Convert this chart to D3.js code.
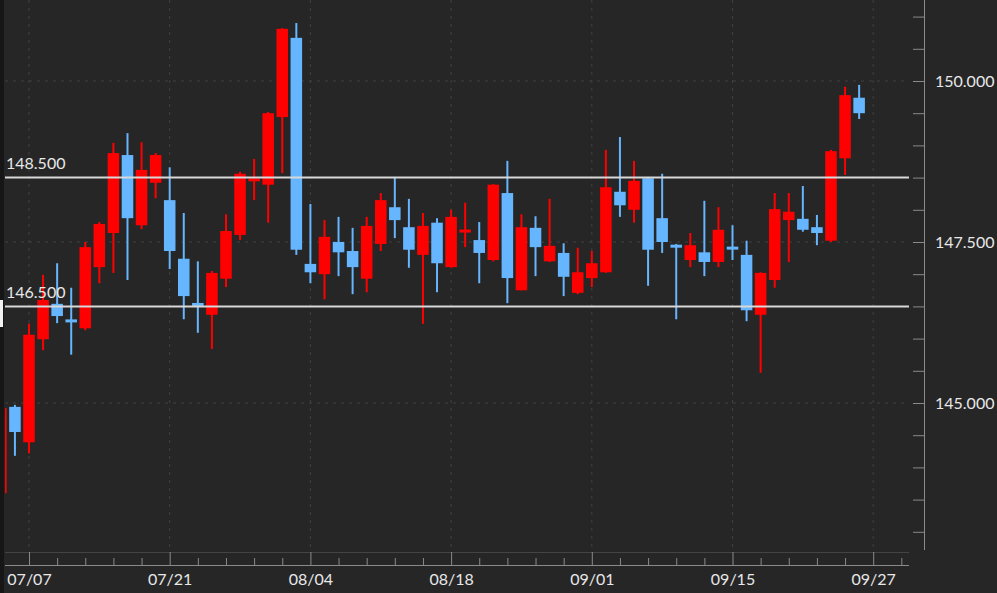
<!DOCTYPE html>
<html>
<head>
<meta charset="utf-8">
<script src="https://cdn.jsdelivr.net/npm/d3@7"></script>
<style>
  html, body { margin: 0; padding: 0; background: #262626; }
  svg { display: block; }
  text { font-family: Lato, "Open Sans", sans-serif; }
</style>
</head>
<body>
<svg id="chart" width="997" height="593"></svg>
<script>
// ---- data (candle index, open, high, low, close) ----
const candleIndex = [-2,-1,0,1,2,3,4,5,6,7,8,9,10,11,12,13,14,15,16,17,18,19,20,21,22,23,24,25,26,27,28,29,30,31,32,33,34,35,36,37,38,39,40,41,42,43,44,45,46,47,48,49,50,51,52,53,54,55,56,57,58,59];
const opens  = [143.60,144.94,144.39,145.99,146.54,146.29,146.16,147.11,147.64,148.85,147.76,148.42,148.15,147.24,146.55,146.37,146.93,147.61,148.45,148.39,149.44,150.67,147.16,147.00,147.50,147.36,146.93,147.47,148.04,147.73,147.30,147.80,147.11,147.66,147.53,147.22,148.26,146.75,147.72,147.20,147.33,146.71,146.94,147.03,148.28,148.00,148.49,147.87,147.45,147.22,147.34,147.19,147.42,147.30,146.37,146.91,147.84,147.86,147.73,147.52,148.80,149.74];
const highs  = [144.95,144.97,146.23,146.99,147.17,146.79,147.50,147.81,149.04,149.19,149.05,148.88,148.66,147.95,147.20,147.05,147.93,148.59,148.79,149.52,150.82,150.90,148.09,147.84,147.89,147.72,147.89,148.26,148.51,148.17,147.95,147.87,148.00,148.11,147.81,148.40,148.76,147.93,147.90,148.17,147.48,147.41,147.36,148.93,149.13,148.76,148.51,148.56,147.47,147.64,148.14,148.04,147.76,147.52,147.03,148.26,148.26,148.37,147.92,148.93,149.91,149.94];
const lows   = [143.58,144.18,144.22,145.82,146.24,145.75,146.13,146.86,147.02,146.91,147.70,148.18,147.08,146.30,146.09,145.84,146.80,147.53,148.15,147.80,148.57,147.30,146.86,146.61,146.97,146.69,146.72,147.36,147.56,147.10,146.23,146.72,147.10,147.42,146.86,147.20,146.55,146.75,146.97,147.19,146.66,146.69,146.80,147.02,147.89,147.80,146.82,147.33,146.30,147.11,146.97,147.11,147.22,146.27,145.47,146.79,147.19,147.66,147.45,147.50,148.54,149.41];
const closes = [144.92,144.55,146.06,146.60,146.35,146.26,147.42,147.78,148.88,147.87,148.62,148.85,147.36,146.66,146.51,147.02,147.67,148.56,148.48,149.50,150.81,147.38,147.03,147.58,147.34,147.11,147.75,148.15,147.84,147.38,147.75,147.17,147.89,147.68,147.33,148.39,146.94,147.73,147.42,147.44,146.96,147.03,147.17,148.35,148.07,148.45,147.38,147.50,147.42,147.45,147.19,147.69,147.39,146.44,147.02,148.01,147.97,147.69,147.64,148.91,149.78,149.50];

const xTickIndex  = [0,10,20,30,40,50,60];
const xTickLabels = ["07/07","07/21","08/04","08/18","09/01","09/15","09/27"];
const xMinorIndex = [-2,0,2,4,6,8,10,12,14,16,18,20,22,24,26,28,30,32,34,36,38,40,42,44,46,48,50,52,54,56,58,60,62];
const yTicks      = [143,143.5,144,144.5,145,145.5,146,146.5,147,147.5,148,148.5,149,149.5,150,150.5,151];
const yLabelTicks = [145,147.5,150];
const levelValues = [148.5,146.5];
const levelLabels = ["148.500","146.500"];

// ---- layout ----
const W = 997, H = 593;
const plotLeft = 5, plotRight = 909, plotTop = 0, plotBottom = 552;
const axisX = 924, xAxisY = 565;

const svg = d3.select("#chart");
svg.append("rect").attr("x",0).attr("y",0).attr("width",W).attr("height",H).attr("fill","#262626");

const x = d3.scaleLinear().domain([0,60]).range([29,873.2]);
const y = d3.scaleLinear().domain([145,150]).range([403,81]);
const step = x(1) - x(0);

const candles = candleIndex.map((d,i)=>({i:d,o:opens[i],h:highs[i],l:lows[i],c:closes[i]}));

// left dark strip
svg.append("rect").attr("x",0).attr("y",0).attr("width",4).attr("height",H).attr("fill","#161616");

// clip
svg.append("clipPath").attr("id","plotclip").append("rect")
  .attr("x",plotLeft).attr("y",plotTop).attr("width",plotRight-plotLeft).attr("height",plotBottom-plotTop);

// grid
const grid = svg.append("g").attr("clip-path","url(#plotclip)");
grid.selectAll("line.vg").data(xTickIndex).join("line")
  .attr("x1",d=>x(d)).attr("x2",d=>x(d)).attr("y1",plotTop).attr("y2",plotBottom)
  .attr("stroke","#404040").attr("stroke-width",1).attr("stroke-dasharray","3,5");
grid.selectAll("line.hg").data(yLabelTicks).join("line")
  .attr("x1",plotLeft).attr("x2",plotRight).attr("y1",d=>y(d)).attr("y2",d=>y(d))
  .attr("stroke","#404040").attr("stroke-width",1).attr("stroke-dasharray","3,5");

// plot bottom faint line
svg.append("line").attr("x1",plotLeft).attr("x2",plotRight).attr("y1",plotBottom+0.5).attr("y2",plotBottom+0.5)
  .attr("stroke","#444").attr("stroke-width",1);

// candles
const cg = svg.append("g").attr("clip-path","url(#plotclip)");
const colorOf = d => d.c >= d.o ? "#ff0000" : "#66b5ff";
cg.selectAll("line.wick").data(candles).join("line")
  .attr("x1",d=>x(d.i)).attr("x2",d=>x(d.i)).attr("y1",d=>y(d.h)).attr("y2",d=>y(d.l))
  .attr("stroke",colorOf).attr("stroke-width",2);
const bw = step*0.82;
cg.selectAll("rect.body").data(candles).join("rect")
  .attr("x",d=>x(d.i)-bw/2).attr("width",bw)
  .attr("y",d=>{const t=Math.min(y(d.o),y(d.c)), hh=Math.abs(y(d.o)-y(d.c)); return hh<3 ? (t+hh/2-1.5) : t;})
  .attr("height",d=>Math.max(3,Math.abs(y(d.o)-y(d.c))))
  .attr("fill",colorOf);

// level lines
svg.selectAll("line.level").data(levelValues).join("line")
  .attr("x1",plotLeft).attr("x2",plotRight).attr("y1",d=>y(d)).attr("y2",d=>y(d))
  .attr("stroke","#d8d8d8").attr("stroke-width",2);
svg.selectAll("text.level").data(levelValues).join("text")
  .attr("x",6).attr("y",d=>y(d)-8.5)
  .attr("fill","#e8e8e8").attr("font-size",16).text((d,i)=>levelLabels[i]);

// left white marker
svg.append("rect").attr("x",0).attr("y",300).attr("width",3).attr("height",27).attr("fill","#f2f2f2");

// y axis
const yAxis = d3.axisRight(y).tickValues(yTicks).tickSizeInner(-11).tickSizeOuter(0).tickPadding(11)
  .tickFormat(d => yLabelTicks.includes(d) ? d3.format(".3f")(d) : "");
const yg = svg.append("g").attr("transform",`translate(${axisX},0)`).call(yAxis);
yg.select(".domain").remove();
yg.selectAll(".tick line").attr("stroke","#8a8a8a").attr("stroke-width",1);
yg.selectAll(".tick text").attr("fill","#e8e8e8").attr("font-size",16).attr("font-family","Lato, sans-serif");
svg.append("line").attr("x1",axisX+0.5).attr("x2",axisX+0.5).attr("y1",0).attr("y2",550)
  .attr("stroke","#8a8a8a").attr("stroke-width",1);

// x axis
const xMajor = d3.axisBottom(x).tickValues(xTickIndex).tickSizeInner(-13).tickSizeOuter(0).tickPadding(9)
  .tickFormat((d,i)=>xTickLabels[i]);
const xg = svg.append("g").attr("transform",`translate(0,${xAxisY})`).call(xMajor);
xg.select(".domain").remove();
xg.selectAll(".tick line").attr("stroke","#8a8a8a");
xg.selectAll(".tick text").attr("fill","#e8e8e8").attr("font-size",16).attr("font-family","Lato, sans-serif");
const xMinor = d3.axisBottom(x).tickValues(xMinorIndex.filter(d=>!xTickIndex.includes(d) && x(d)>plotLeft && x(d)<plotRight))
  .tickSizeInner(-7).tickSizeOuter(0).tickFormat("");
const xmg = svg.append("g").attr("transform",`translate(0,${xAxisY})`).call(xMinor);
xmg.select(".domain").remove();
xmg.selectAll(".tick line").attr("stroke","#8a8a8a");
svg.append("line").attr("x1",plotLeft).attr("x2",plotRight).attr("y1",xAxisY+0.5).attr("y2",xAxisY+0.5)
  .attr("stroke","#8a8a8a").attr("stroke-width",1);
</script>
</body>
</html>
